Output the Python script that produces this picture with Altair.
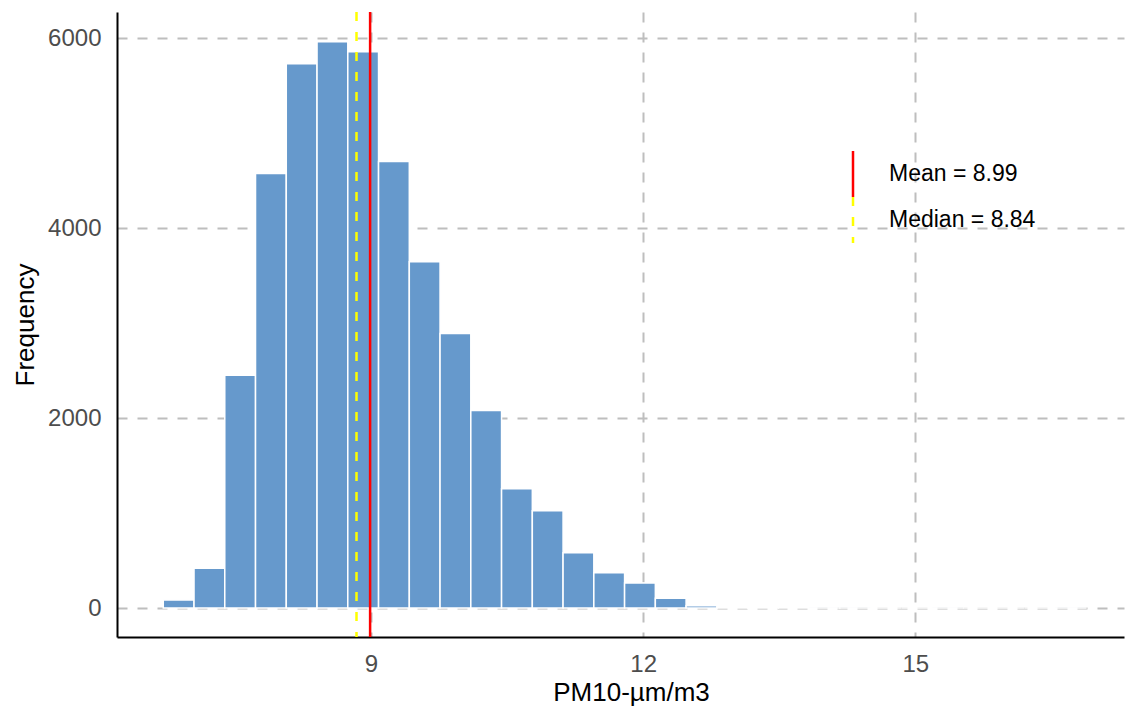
import altair as alt
import pandas as pd

FONT = "Liberation Sans"

# Histogram (30 bins of equal width)
bin_start = 6.71
bin_width = 0.339
counts = [85, 420, 2450, 4575, 5730, 5960, 5855, 4700, 3645, 2890,
          2080, 1255, 1025, 582, 372, 263, 102, 25, 6, 3,
          2, 1, 1, 0, 0, 1, 0, 0, 0, 1]

# Summary statistics
stat_labels = ["Mean = 8.99", "Median = 8.84"]
stat_values = [8.99, 8.84]

# Axis ticks
x_ticks = [9, 12, 15]
y_ticks = [0, 2000, 4000, 6000]

starts = [bin_start + i * bin_width for i in range(len(counts))]
bins = pd.DataFrame({
    "start": starts,
    "end": [s + bin_width for s in starts],
    "count": counts,
})
stats = pd.DataFrame({"stat": stat_labels, "value": stat_values})

x_scale = alt.Scale(domain=[6.2, 17.3], nice=False, zero=False)
y_scale = alt.Scale(domain=[-305, 6274], nice=False, zero=False)

bars = alt.Chart(bins).mark_bar(
    color="#6699CC", stroke="white", strokeWidth=1.5
).encode(
    x=alt.X("start:Q", scale=x_scale, title="PM10-µm/m3",
            axis=alt.Axis(values=x_ticks, format="d", labelPadding=15,
                          titleX=514, titleY=63, titleBaseline="alphabetic",
                          titleAlign="center")),
    x2="end:Q",
    y=alt.Y("count:Q", scale=y_scale, title="Frequency",
            axis=alt.Axis(values=y_ticks, format="d", labelPadding=16,
                          titleAngle=-90, titleX=-84, titleY=312.5,
                          titleBaseline="alphabetic", titleAlign="center")),
    y2=alt.datum(0),
)

legend = alt.Legend(
    title=None, orient="none", legendX=711.5, legendY=139, padding=0,
    symbolType="M0,-1L0,1", symbolSize=2116, symbolStrokeWidth=2.5,
    labelFont=FONT, labelFontSize=23, labelColor="black",
    labelOffset=11.5, rowPadding=0, clipHeight=46, labelBaseline="middle",
)

rules = alt.Chart(stats).mark_rule(strokeWidth=2.5).encode(
    x=alt.X("value:Q", scale=x_scale),
    color=alt.Color("stat:N",
                    scale=alt.Scale(domain=stat_labels, range=["#FF0000", "#FFFF00"]),
                    legend=legend),
    strokeDash=alt.StrokeDash("stat:N",
                              scale=alt.Scale(domain=stat_labels, range=[[1, 0], [9, 11]]),
                              legend=legend),
)

chart = alt.layer(bars, rules).properties(
    width=1007, height=625,
    autosize=alt.AutoSizeParams(type="none"),
    padding={"left": 109, "top": 4, "right": 2, "bottom": 69},
).configure_view(
    stroke=None
).configure_axis(
    domainColor="black", domainWidth=2,
    gridColor="#BEBEBE", gridDash=[10, 10], gridWidth=2,
    ticks=False, tickSize=0,
    labelFont=FONT, titleFont=FONT,
    labelColor="#4D4D4D", titleColor="black",
    labelFontSize=24, titleFontSize=26, titleFontWeight="normal",
)

chart.save("out.html", embed_options={"renderer": "svg", "actions": False})
